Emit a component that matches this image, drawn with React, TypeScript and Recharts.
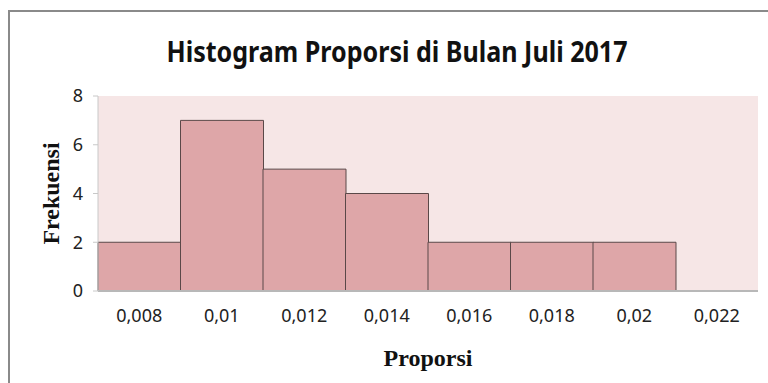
import { Bar, BarChart, CartesianGrid, XAxis, YAxis } from "recharts";

const categories = ["0,008", "0,01", "0,012", "0,014", "0,016", "0,018", "0,02", "0,022"];
const frekuensi = [2, 7, 5, 4, 2, 2, 2, 0];
const yTicks = [0, 2, 4, 6, 8];

const data = categories.map((cat, i) => ({ cat, frekuensi: frekuensi[i] }));

const sans = "'Noto Sans', sans-serif";
const serif = "'Liberation Serif', 'DejaVu Serif', serif";

export default function App() {
  return (
    <div style={{ position: "absolute", left: 0, top: 0, width: 768, height: 383, background: "#fff", overflow: "hidden" }}>
      <div
        style={{
          position: "absolute",
          left: 8,
          top: 10,
          width: 760,
          height: 373,
          borderTop: "2px solid #8a8a8a",
          borderLeft: "2px solid #8a8a8a",
        }}
      />
      <svg width={768} height={383} style={{ position: "absolute", left: 0, top: 0 }}>
        <text
          x={397}
          y={62}
          textAnchor="middle"
          fontFamily={sans}
          fontWeight="bold"
          fontSize={29}
          fill="#111"
          textLength={461}
          lengthAdjust="spacingAndGlyphs"
        >
          Histogram Proporsi di Bulan Juli 2017
        </text>
      </svg>
      <div style={{ position: "absolute", left: 0, top: 0 }}>
        <BarChart
          width={768}
          height={383}
          data={data}
          margin={{ top: 96, right: 10, bottom: 0, left: 0 }}
          barCategoryGap={0}
        >
          <CartesianGrid horizontal={false} vertical={false} fill="#f6e6e6" />
          <XAxis
            dataKey="cat"
            height={92}
            tickLine={false}
            tickMargin={12}
            axisLine={{ stroke: "#b8b8b8", strokeWidth: 2 }}
            tick={{ fill: "#222", fontSize: 18, fontFamily: sans }}
            interval={0}
            label={{
              value: "Proporsi",
              position: "center",
              dy: 20,
              fill: "#111",
              fontSize: 24,
              fontWeight: "bold",
              fontFamily: serif,
            }}
          />
          <YAxis
            width={98}
            domain={[0, 8]}
            ticks={yTicks}
            tickSize={5}
            tickMargin={10}
            axisLine={{ stroke: "#c8c8c8" }}
            tickLine={{ stroke: "#c8c8c8" }}
            tick={{ fill: "#222", fontSize: 18, fontFamily: sans }}
            label={{
              value: "Frekuensi",
              angle: -90,
              position: "center",
              dx: 1,
              fill: "#111",
              fontSize: 24,
              fontWeight: "bold",
              fontFamily: serif,
            }}
          />
          <Bar dataKey="frekuensi" fill="#dea6a8" stroke="#5a4848" strokeWidth={1} isAnimationActive={false} />
        </BarChart>
      </div>
    </div>
  );
}
